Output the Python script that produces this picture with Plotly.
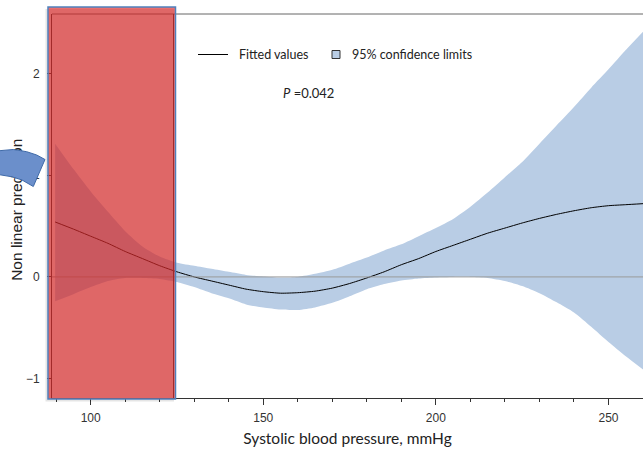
import plotly.graph_objects as go

# ---- data ----
sbp = [89.7, 95, 100, 105, 110, 115, 120, 125, 130, 135, 140, 145, 150, 155, 160,
       165, 170, 175, 180, 185, 190, 195, 200, 205, 210, 215, 220, 225, 230, 235,
       240, 245, 250, 255, 260]
fitted = [0.54, 0.47, 0.40, 0.33, 0.25, 0.18, 0.11, 0.05, 0.0, -0.04, -0.08, -0.12,
          -0.145, -0.16, -0.155, -0.14, -0.11, -0.065, -0.01, 0.05, 0.12, 0.18, 0.25,
          0.31, 0.37, 0.43, 0.48, 0.53, 0.575, 0.615, 0.65, 0.68, 0.70, 0.71, 0.72]
upper = [1.31, 1.06, 0.84, 0.64, 0.45, 0.30, 0.20, 0.14, 0.11, 0.08, 0.05, 0.02,
         0.005, -0.005, 0.0, 0.03, 0.07, 0.13, 0.19, 0.26, 0.32, 0.40, 0.48, 0.57,
         0.69, 0.83, 0.98, 1.13, 1.31, 1.49, 1.67, 1.86, 2.04, 2.23, 2.41]
lower = [-0.24, -0.17, -0.10, -0.04, -0.01, -0.01, -0.02, -0.05, -0.10, -0.16, -0.21,
         -0.27, -0.30, -0.32, -0.325, -0.30, -0.255, -0.19, -0.12, -0.07, -0.035,
         -0.015, -0.005, 0.0, 0.0, -0.01, -0.04, -0.09, -0.16, -0.25, -0.35, -0.49,
         -0.64, -0.78, -0.91]
x_ticks = [100, 150, 200, 250]
y_ticks = [-1, 0, 1, 2]
x_title = "Systolic blood pressure, mmHg"
y_title = "Non linear prediction"
legend_labels = ["Fitted values", "95% confidence limits"]
p_label = "<i>P</i> =0.042"

# ---- layout geometry ----
W, H = 643, 452
ML, MR, MT, MB = 52, 0, 14, 54
PW, PH = W - ML - MR, H - MT - MB
Y_RANGE = [-1.19, 2.584]


def px(xp):
    return (xp - ML) / PW


def py(yp):
    return (H - MB - yp) / PH


BAND = "#B9CDE5"

fig = go.Figure()
fig.add_trace(go.Scatter(x=sbp, y=lower, mode="lines", line=dict(width=0, shape="spline", smoothing=0.6),
                         showlegend=False, hoverinfo="skip"))
fig.add_trace(go.Scatter(x=sbp, y=upper, mode="lines", fill="tonexty", fillcolor=BAND,
                         line=dict(width=0, shape="spline", smoothing=0.6), name=legend_labels[1],
                         showlegend=False))
fig.add_trace(go.Scatter(x=sbp, y=fitted, mode="lines", line=dict(color="black", width=1, shape="spline", smoothing=0.6),
                         name=legend_labels[0], showlegend=False))
# helper (empty) trace so the title-carrying overlay axis is drawn
fig.add_trace(go.Scatter(x=[], y=[], yaxis="y2", showlegend=False, hoverinfo="skip"))

shapes = []
# zero line
shapes.append(dict(type="line", xref="paper", yref="y", x0=0, x1=1, y0=0, y1=0,
                   line=dict(color="#9a9a9a", width=1), layer="above"))
# top frame line
shapes.append(dict(type="line", xref="paper", yref="paper", x0=0, x1=1, y0=1, y1=1,
                   line=dict(color="#666666", width=1), layer="above"))
# inner box right edge
shapes.append(dict(type="line", xref="paper", yref="paper", x0=px(173.5), x1=px(173.5), y0=0, y1=1,
                   line=dict(color="#333333", width=1), layer="above"))
# shadow of the red box
shapes.append(dict(type="rect", xref="paper", yref="paper", x0=px(45.5), x1=px(174), y0=py(401.5), y1=py(9),
                   fillcolor="rgba(0,0,0,0.10)", line=dict(width=0), layer="above"))
# red highlight box
shapes.append(dict(type="rect", xref="paper", yref="paper", x0=px(48), x1=px(175.5), y0=py(399), y1=py(7),
                   fillcolor="rgba(220,40,40,0.665)", line=dict(color="#4F81BD", width=1.5), layer="above"))
# curved blue arrow piece
pts = [(-4, 151), (13.3, 149.5), (26.7, 151.7), (36.7, 155), (45, 159.5),
       (33.3, 186.5), (22, 180), (12, 176.8), (0, 174.8), (-4, 174.5)]
path = "M " + " L ".join(f"{px(a):.5f},{py(b):.5f}" for a, b in pts) + " Z"
shapes.append(dict(type="path", xref="paper", yref="paper", path=path,
                   fillcolor="#6B8FCB", line=dict(color="#3F6AA8", width=1), layer="above"))
# legend: line sample and square
shapes.append(dict(type="line", xref="paper", yref="paper", x0=px(198), x1=px(228), y0=py(54.5), y1=py(54.5),
                   line=dict(color="black", width=1), layer="above"))
shapes.append(dict(type="rect", xref="paper", yref="paper", x0=px(332), x1=px(340), y0=py(58.5), y1=py(50.5),
                   fillcolor=BAND, line=dict(color="#333333", width=1), layer="above"))

LEG_FONT = dict(family="Lato, 'Open Sans', sans-serif", size=12.5, color="#222222")
annotations = [
    dict(xref="paper", yref="paper", x=px(237), y=py(54.5), xanchor="left", yanchor="middle",
         text=legend_labels[0], showarrow=False, font=LEG_FONT),
    dict(xref="paper", yref="paper", x=px(350), y=py(54.5), xanchor="left", yanchor="middle",
         text=legend_labels[1], showarrow=False, font=LEG_FONT),
    dict(xref="paper", yref="paper", x=px(281), y=py(93), xanchor="left", yanchor="middle",
         text=p_label, showarrow=False, font=dict(LEG_FONT, size=13)),
]

TICK_FONT = dict(family="Liberation Sans, Arial, sans-serif", size=12, color="#333333")

fig.update_layout(
    width=W, height=H,
    margin=dict(l=ML, r=MR, t=MT, b=MB, pad=0),
    paper_bgcolor="white", plot_bgcolor="white",
    showlegend=False,
    shapes=shapes, annotations=annotations,
    xaxis=dict(range=[88.79, 260.0], tickvals=x_ticks, ticks="outside", ticklen=6, tickwidth=1,
               tickcolor="#333333", showline=True, linecolor="#333333", linewidth=1,
               showgrid=False, zeroline=False, tickfont=TICK_FONT, ticklabelstandoff=3,
               minor=dict(dtick=10, tick0=0, ticks="outside", ticklen=3, tickcolor="#333333", showgrid=False),
               title=dict(text=x_title, standoff=8,
                          font=dict(family="Lato, 'Open Sans', sans-serif", size=15.5, color="#222222"))),
    yaxis=dict(range=Y_RANGE, tickvals=y_ticks, ticks="outside", ticklen=4, tickwidth=1,
               tickcolor="#333333", showline=True, linecolor="#333333", linewidth=1,
               showgrid=False, zeroline=False, tickfont=TICK_FONT, ticklabelstandoff=5),
    # overlay axis that carries the y title as a rotated label (so the arrow can sit above it)
    yaxis2=dict(overlaying="y", anchor="free", position=0, side="left", range=Y_RANGE,
                tickvals=[(Y_RANGE[0] + Y_RANGE[1]) / 2 - 0.06], ticktext=[y_title], tickangle=-90,
                ticks="", showline=False, showgrid=False, zeroline=False, ticklabelstandoff=27,
                tickfont=dict(family="Liberation Sans, Arial, sans-serif", size=15.5, color="#222222")),
)

fig.write_html("out.html", config={"displayModeBar": False},
               post_script="document.body.style.margin='0';document.body.style.overflow='hidden';")
